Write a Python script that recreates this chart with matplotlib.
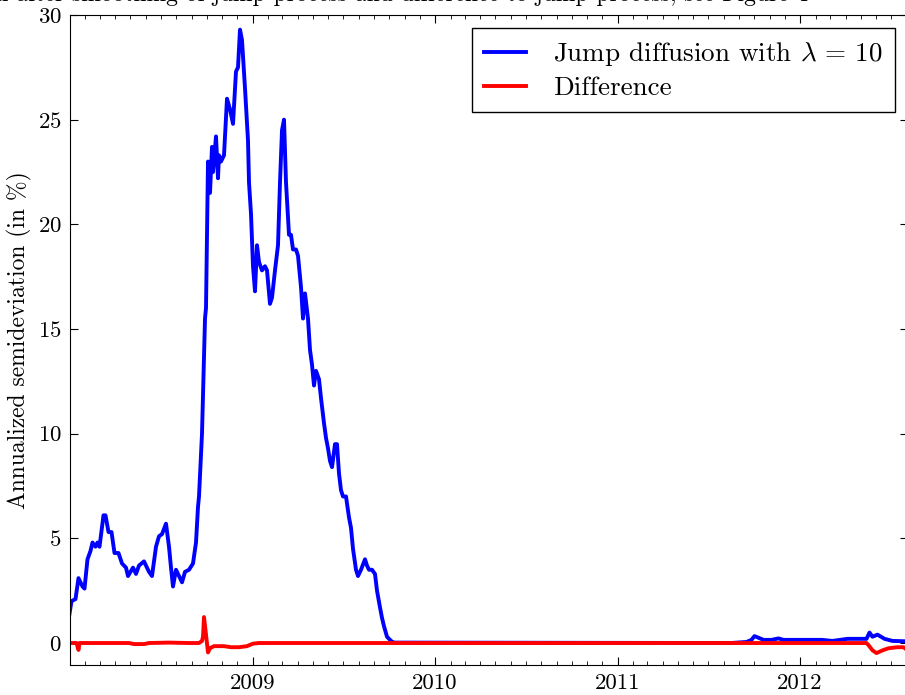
import matplotlib
matplotlib.use("Agg")
import matplotlib.pyplot as plt
import matplotlib.dates as mdates
import numpy as np
import pandas as pd

# blue: jump diffusion with lambda = 10 (annualized semideviation, in %)
jump_dates = [
    "2008-01-01", "2008-01-05", "2008-01-13", "2008-01-19", "2008-01-27", "2008-01-31",
    "2008-02-06", "2008-02-12", "2008-02-16", "2008-02-22", "2008-02-26", "2008-03-01",
    "2008-03-09", "2008-03-13", "2008-03-19", "2008-03-25", "2008-03-31", "2008-04-08",
    "2008-04-15", "2008-04-23", "2008-04-27", "2008-05-07", "2008-05-13", "2008-05-19",
    "2008-05-29", "2008-06-08", "2008-06-14", "2008-06-22", "2008-06-28", "2008-07-04",
    "2008-07-12", "2008-07-18", "2008-07-22", "2008-07-26", "2008-08-01", "2008-08-05",
    "2008-08-13", "2008-08-19", "2008-08-27", "2008-09-04", "2008-09-10", "2008-09-14",
    "2008-09-16", "2008-09-22", "2008-09-28", "2008-09-30", "2008-10-04", "2008-10-08",
    "2008-10-12", "2008-10-14", "2008-10-20", "2008-10-24", "2008-10-26", "2008-10-30",
    "2008-11-05", "2008-11-11", "2008-11-17", "2008-11-23", "2008-11-29", "2008-12-03",
    "2008-12-07", "2008-12-11", "2008-12-17", "2008-12-23", "2008-12-25", "2008-12-29",
    "2009-01-02", "2009-01-06", "2009-01-10", "2009-01-14", "2009-01-20", "2009-01-26",
    "2009-01-30", "2009-02-05", "2009-02-09", "2009-02-15", "2009-02-21", "2009-02-25",
    "2009-03-01", "2009-03-05", "2009-03-09", "2009-03-15", "2009-03-19", "2009-03-23",
    "2009-03-29", "2009-04-02", "2009-04-08", "2009-04-12", "2009-04-16", "2009-04-22",
    "2009-04-26", "2009-04-30", "2009-05-04", "2009-05-08", "2009-05-14", "2009-05-18",
    "2009-05-24", "2009-05-28", "2009-06-01", "2009-06-05", "2009-06-09", "2009-06-15",
    "2009-06-19", "2009-06-23", "2009-06-27", "2009-07-01", "2009-07-07", "2009-07-13",
    "2009-07-17", "2009-07-21", "2009-07-27", "2009-07-31", "2009-08-06", "2009-08-14",
    "2009-08-18", "2009-08-22", "2009-08-28", "2009-09-03", "2009-09-07", "2009-09-13",
    "2009-09-17", "2009-09-21", "2009-09-27", "2009-10-05", "2009-10-11", "2011-08-16",
    "2011-09-16", "2011-09-26", "2011-10-02", "2011-10-10", "2011-10-20", "2011-11-05",
    "2011-11-19", "2011-11-29", "2012-01-05", "2012-02-14", "2012-03-06", "2012-04-05",
    "2012-05-05", "2012-05-13", "2012-05-19", "2012-05-25", "2012-06-04", "2012-06-18",
    "2012-07-04", "2012-08-03",
]
jump_vals = [
    1.4, 2.0, 2.1, 3.1, 2.7, 2.6,
    4.0, 4.4, 4.8, 4.6, 4.8, 4.6,
    6.1, 6.1, 5.3, 5.3, 4.3, 4.3,
    3.8, 3.6, 3.2, 3.6, 3.3, 3.7,
    3.9, 3.4, 3.2, 4.6, 5.1, 5.2,
    5.7, 4.6, 3.6, 2.7, 3.5, 3.3,
    2.9, 3.4, 3.5, 3.8, 4.8, 6.5,
    7.0, 10.0, 15.5, 16.0, 23.0, 21.5,
    23.7, 22.5, 24.2, 22.2, 23.3, 23.0,
    23.3, 26.0, 25.5, 24.8, 27.3, 27.5,
    29.3, 28.8, 26.5, 24.0, 22.0, 20.5,
    18.0, 16.8, 19.0, 18.2, 17.8, 18.0,
    17.8, 16.2, 16.5, 17.8, 19.0, 22.0,
    24.5, 25.0, 22.0, 19.5, 19.5, 18.8,
    18.8, 18.5, 17.0, 15.5, 16.7, 15.5,
    14.0, 13.3, 12.3, 13.0, 12.6, 11.7,
    10.5, 9.8, 9.3, 8.7, 8.4, 9.5,
    9.5, 8.1, 7.3, 7.0, 7.0, 6.0,
    5.5, 4.5, 3.5, 3.2, 3.5, 4.0,
    3.7, 3.5, 3.5, 3.3, 2.5, 1.7,
    1.2, 0.8, 0.3, 0.1, 0.02, 0.0,
    0.05, 0.15, 0.33, 0.25, 0.15, 0.15,
    0.22, 0.15, 0.15, 0.15, 0.1, 0.2,
    0.2, 0.2, 0.5, 0.3, 0.4, 0.2,
    0.1, 0.08,
]

# red: difference between smoothed and jump process
diff_dates = [
    "2008-01-01", "2008-01-15", "2008-01-19", "2008-01-21", "2008-04-29", "2008-05-09",
    "2008-05-29", "2008-06-08", "2008-07-18", "2008-08-27", "2008-09-16", "2008-09-22",
    "2008-09-24", "2008-09-26", "2008-09-30", "2008-10-04", "2008-10-08", "2008-10-16",
    "2008-11-05", "2008-11-19", "2008-12-05", "2008-12-21", "2009-01-02", "2009-01-14",
    "2012-05-13", "2012-05-17", "2012-05-25", "2012-06-02", "2012-06-14", "2012-06-26",
    "2012-07-14", "2012-07-26", "2012-08-03",
]
diff_vals = [
    0.0, 0.0, -0.33, 0.0, 0.0, -0.05,
    -0.05, 0.0, 0.02, 0.0, 0.0, 0.1,
    0.3, 1.24, 0.4, -0.45, -0.25, -0.15,
    -0.15, -0.2, -0.2, -0.15, -0.03, 0.0,
    0.0, -0.1, -0.35, -0.48, -0.35, -0.25,
    -0.2, -0.2, -0.35,
]

title = "Annualized semideviation after smoothing of jump process and difference to jump process, see Figure 4"
title_prefix = "Annualized semideviation after smoothing of "

plt.rcParams.update({
    "font.family": "serif",
    "font.serif": ["cmr10"],
    "mathtext.fontset": "cm",
    "axes.formatter.use_mathtext": True,
    "axes.unicode_minus": False,
    "font.size": 16.5,
    "xtick.direction": "in",
    "ytick.direction": "in",
    "xtick.top": True,
    "ytick.right": True,
    "xtick.major.size": 6,
    "ytick.major.size": 6,
    "xtick.minor.size": 3,
    "xtick.major.pad": 6,
    "ytick.major.pad": 6,
})

jd = pd.to_datetime(jump_dates)
dd = pd.to_datetime(diff_dates)

fig = plt.figure(figsize=(9.05, 6.95), dpi=100)
ax = fig.add_axes([70 / 905, 30 / 695, 838 / 905, 650 / 695])

ax.plot(jd, jump_vals, color="blue", lw=2.8, label=r"Jump diffusion with $\lambda$ = 10")
ax.plot(dd, diff_vals, color="red", lw=2.8, label="Difference")

ax.set_xlim(pd.Timestamp("2008-01-02"), pd.Timestamp("2012-08-04"))
ax.set_ylim(-1.05, 30)
ax.set_yticks([0, 5, 10, 15, 20, 25, 30])
ax.xaxis.set_major_locator(mdates.YearLocator())
ax.xaxis.set_major_formatter(mdates.DateFormatter("%Y"))
ax.xaxis.set_minor_locator(mdates.MonthLocator())
ax.set_ylabel("Annualized semideviation (in %)", fontsize=17)

leg = ax.legend(loc="upper right", fancybox=False, framealpha=1,
                edgecolor="black", handlelength=1.55, borderpad=0.45,
                labelspacing=0.3, handletextpad=1.0, fontsize=19.5,
                borderaxespad=0, bbox_to_anchor=(0.9845, 0.98))
leg.get_frame().set_linewidth(1.0)

# title sits above the figure and is mostly cut off, as in the original
r = fig.canvas.get_renderer()
tmp = fig.text(0, 0, title_prefix, fontsize=17)
w = tmp.get_window_extent(renderer=r).width
tmp.remove()
fig.text((213 - w) / 905, 1 - 1 / 695, title, fontsize=17, va="baseline", ha="left")

fig.savefig("out.png", dpi=100)
